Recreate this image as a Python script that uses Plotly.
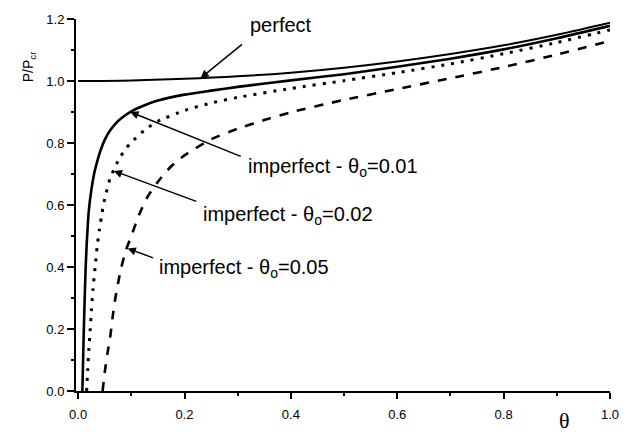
import plotly.graph_objects as go

# ---- data ----
theta_perfect = [0.0, 0.1, 0.2, 0.3, 0.4, 0.5, 0.6, 0.7, 0.8, 0.9, 1.0]
p_perfect = [1.000, 1.002, 1.007, 1.015, 1.027, 1.043, 1.063, 1.087, 1.115, 1.149, 1.188]

theta_01 = [0.008, 0.010, 0.012, 0.014, 0.016, 0.018, 0.020, 0.025, 0.030, 0.035, 0.040, 0.050,
            0.060, 0.070, 0.080, 0.100, 0.125, 0.150, 0.200, 0.250, 0.300, 0.400, 0.500, 0.600,
            0.700, 0.800, 0.900, 1.000]
p_01 = [0.0, 0.15, 0.28, 0.39, 0.47, 0.53, 0.58, 0.65, 0.70, 0.735, 0.765, 0.81, 0.84, 0.862,
        0.878, 0.902, 0.922, 0.937, 0.956, 0.969, 0.981, 1.002, 1.022, 1.046, 1.072, 1.102,
        1.138, 1.178]

theta_02 = [0.016, 0.018, 0.020, 0.022, 0.025, 0.028, 0.032, 0.036, 0.040, 0.045, 0.050, 0.060,
            0.070, 0.080, 0.090, 0.100, 0.125, 0.150, 0.200, 0.250, 0.300, 0.400, 0.500, 0.600,
            0.700, 0.800, 0.900, 1.000]
p_02 = [0.0, 0.07, 0.13, 0.18, 0.26, 0.33, 0.40, 0.47, 0.52, 0.575, 0.62, 0.685, 0.725, 0.757,
        0.782, 0.802, 0.842, 0.870, 0.905, 0.929, 0.947, 0.976, 1.001, 1.027, 1.055, 1.088,
        1.124, 1.165]

theta_05 = [0.046, 0.050, 0.055, 0.060, 0.065, 0.070, 0.080, 0.090, 0.100, 0.115, 0.130, 0.150,
            0.175, 0.200, 0.250, 0.300, 0.350, 0.400, 0.500, 0.600, 0.700, 0.800, 0.900, 1.000]
p_05 = [0.0, 0.06, 0.12, 0.17, 0.24, 0.30, 0.39, 0.455, 0.50, 0.57, 0.625, 0.675, 0.725, 0.760,
        0.812, 0.846, 0.874, 0.899, 0.939, 0.974, 1.009, 1.045, 1.085, 1.129]

x_ticks = [0.0, 0.2, 0.4, 0.6, 0.8, 1.0]
y_ticks = [0.0, 0.2, 0.4, 0.6, 0.8, 1.0, 1.2]

FONT = "Liberation Sans, Arial, sans-serif"

fig = go.Figure()
fig.add_trace(go.Scatter(x=theta_perfect, y=p_perfect, mode="lines",
                         line=dict(color="black", width=2, shape="spline"), showlegend=False))
fig.add_trace(go.Scatter(x=theta_01, y=p_01, mode="lines",
                         line=dict(color="black", width=2.6, shape="spline", smoothing=0.6),
                         showlegend=False))
fig.add_trace(go.Scatter(x=theta_02, y=p_02, mode="lines",
                         line=dict(color="black", width=3, dash="3px,7px", shape="spline",
                                   smoothing=0.6), showlegend=False))
fig.add_trace(go.Scatter(x=theta_05, y=p_05, mode="lines",
                         line=dict(color="black", width=2.6, dash="9px,9px", shape="spline",
                                   smoothing=0.6), showlegend=False))

lab_font = dict(family=FONT, size=20, color="black")
ann = [
    # arrow annotations (head at curve, tail offset in px)
    dict(x=0.23, y=1.009, ax=43, ay=-35),
    dict(x=0.098, y=0.90, ax=112, ay=45),
    dict(x=0.067, y=0.71, ax=84, ay=31),
    dict(x=0.093, y=0.46, ax=27, ay=10),
]
for a in ann:
    fig.add_annotation(x=a["x"], y=a["y"], xref="x", yref="y", ax=a["ax"], ay=a["ay"],
                       text="", showarrow=True, arrowhead=2, arrowsize=1.1, arrowwidth=1.5,
                       arrowcolor="black")

fig.add_annotation(x=0.382, y=1.18, xref="x", yref="y", text="perfect", showarrow=False,
                   font=lab_font, xanchor="center", yanchor="middle")
fig.add_annotation(x=0.315, y=0.722, xref="x", yref="y",
                   text="imperfect - θ<sub>o</sub>=0.01", showarrow=False,
                   font=lab_font, xanchor="left", yanchor="middle")
fig.add_annotation(x=0.231, y=0.566, xref="x", yref="y",
                   text="imperfect - θ<sub>o</sub>=0.02", showarrow=False,
                   font=lab_font, xanchor="left", yanchor="middle")
fig.add_annotation(x=0.149, y=0.395, xref="x", yref="y",
                   text="imperfect - θ<sub>o</sub>=0.05", showarrow=False,
                   font=lab_font, xanchor="left", yanchor="middle")

# axis titles
fig.add_annotation(x=-0.108, y=0.918, xref="paper", yref="paper", text="P/P<sub>cr</sub>",
                   textangle=-90, showarrow=False,
                   font=dict(family=FONT, size=14, color="black"))
fig.add_annotation(x=0.928, y=-0.078, xref="paper", yref="paper", text="θ",
                   showarrow=False, yanchor="middle",
                   font=dict(family="Liberation Serif, Times New Roman, serif", size=22,
                             color="black"))

fig.update_layout(
    width=631, height=434,
    margin=dict(l=76, r=16, t=13, b=41),
    paper_bgcolor="white", plot_bgcolor="white",
    font=dict(family=FONT, size=12, color="black"),
)
fig.update_xaxes(range=[-0.004, 1.0], tickvals=x_ticks, ticktext=[f"{v:.1f}" for v in x_ticks],
                 showgrid=False, zeroline=False, showline=True, linecolor="black", linewidth=2,
                 ticks="outside", ticklen=6, tickwidth=2, tickcolor="black",
                 ticklabelstandoff=4,
                 minor=dict(dtick=0.1, tick0=0, ticks="outside", ticklen=3, tickwidth=1.5,
                            tickcolor="black"),
                 tickfont=dict(family=FONT, size=13, color="black"))
fig.update_yaxes(range=[0, 1.2], tickvals=y_ticks, ticktext=[f"{v:.1f}" for v in y_ticks],
                 showgrid=False, zeroline=False, showline=True, linecolor="black", linewidth=2,
                 ticks="outside", ticklen=7, tickwidth=2, tickcolor="black",
                 minor=dict(dtick=0.1, tick0=0, ticks="outside", ticklen=3, tickwidth=1.5,
                            tickcolor="black"),
                 tickfont=dict(family=FONT, size=13, color="black"))

fig.write_html("out.html")
